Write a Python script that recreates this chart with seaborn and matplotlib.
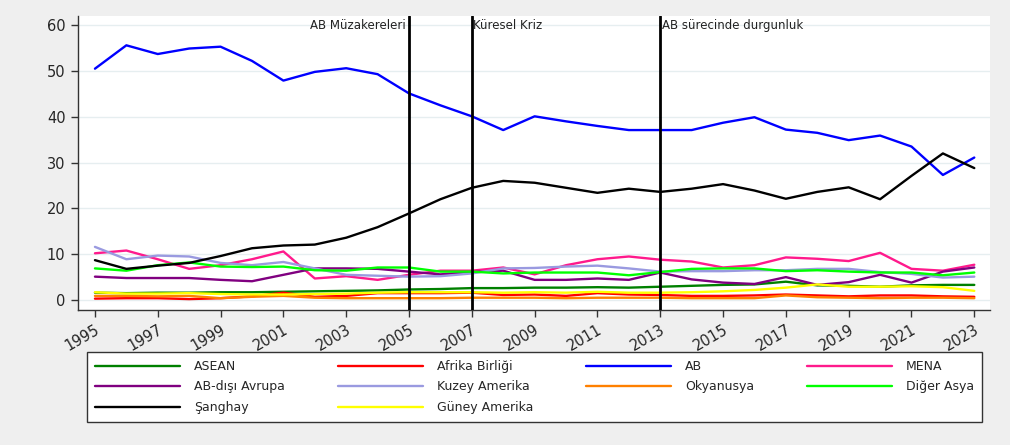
import matplotlib
matplotlib.use("Agg")
import matplotlib.pyplot as plt
import seaborn as sns
import pandas as pd

years = list(range(1995, 2024))

asean = [1.6, 1.5, 1.6, 1.6, 1.7, 1.7, 1.8, 1.9, 2.0, 2.1,
         2.3, 2.4, 2.6, 2.6, 2.7, 2.7, 2.8, 2.7, 2.9, 3.1,
         3.3, 3.4, 4.0, 3.2, 3.1, 2.9, 3.2, 3.3, 3.3]
afrika = [0.3, 0.4, 0.4, 0.2, 0.4, 0.8, 1.6, 0.7, 0.9, 1.5,
          1.5, 1.5, 1.6, 1.1, 1.2, 0.9, 1.5, 1.2, 1.1, 0.9,
          0.9, 1.0, 1.2, 1.0, 0.8, 1.0, 1.0, 0.8, 0.7]
ab = [50.5, 55.6, 53.7, 54.9, 55.3, 52.2, 47.9, 49.8, 50.6, 49.3,
      45.1, 42.5, 40.1, 37.1, 40.1, 39.0, 38.0, 37.1, 37.1, 37.1,
      38.7, 39.9, 37.2, 36.5, 34.9, 35.9, 33.5, 27.3, 31.1]
mena = [10.2, 10.8, 8.9, 6.8, 7.6, 8.9, 10.6, 4.7, 5.2, 4.4,
        5.5, 6.4, 6.4, 7.1, 5.6, 7.6, 8.9, 9.5, 8.8, 8.4,
        7.1, 7.6, 9.3, 9.0, 8.5, 10.3, 6.8, 6.4, 7.7]
ab_disi = [5.1, 4.8, 4.8, 4.8, 4.4, 4.1, 5.5, 6.9, 6.9, 6.8,
           6.2, 5.6, 6.1, 6.4, 4.4, 4.4, 4.7, 4.4, 6.0, 4.5,
           3.8, 3.5, 5.0, 3.3, 3.9, 5.5, 3.8, 6.2, 7.1]
kuzey_amerika = [11.6, 8.9, 9.7, 9.5, 8.1, 7.6, 8.3, 6.9, 5.5, 5.3,
                 5.1, 5.2, 5.8, 6.9, 7.0, 7.3, 7.5, 6.9, 6.2, 6.3,
                 6.3, 6.5, 6.5, 6.8, 6.8, 6.1, 5.7, 4.9, 5.1]
okyanusya = [0.9, 0.9, 0.8, 0.9, 0.4, 0.7, 0.9, 0.5, 0.4, 0.4,
             0.4, 0.4, 0.5, 0.5, 0.5, 0.4, 0.5, 0.5, 0.5, 0.4,
             0.4, 0.4, 1.0, 0.6, 0.5, 0.4, 0.5, 0.5, 0.4]
diger_asya = [6.9, 6.4, 7.6, 8.2, 7.3, 7.2, 7.3, 6.5, 6.4, 7.1,
              7.1, 6.2, 6.2, 5.8, 6.0, 6.0, 6.0, 5.4, 6.1, 6.8,
              6.9, 6.9, 6.3, 6.5, 6.2, 6.0, 6.0, 5.4, 6.0]
sanghay = [8.7, 6.8, 7.5, 8.1, 9.6, 11.3, 11.9, 12.1, 13.6, 15.9,
           18.9, 22.0, 24.5, 26.0, 25.6, 24.5, 23.4, 24.3, 23.6, 24.3,
           25.3, 23.9, 22.1, 23.6, 24.6, 22.0, 27.1, 32.0, 28.8]
guney_amerika = [1.7, 1.4, 1.4, 1.5, 1.3, 1.2, 1.2, 1.3, 1.4, 1.6,
                 1.7, 1.7, 1.7, 1.6, 1.7, 1.6, 1.8, 1.6, 1.6, 1.7,
                 1.9, 2.2, 2.7, 3.4, 2.9, 2.9, 3.0, 2.8, 2.0]

series_names = ["ASEAN", "Afrika Birliği", "AB", "MENA", "AB-dışı Avrupa",
                "Kuzey Amerika", "Okyanusya", "Diğer Asya", "Şanghay", "Güney Amerika"]
series_values = [asean, afrika, ab, mena, ab_disi,
                 kuzey_amerika, okyanusya, diger_asya, sanghay, guney_amerika]
colors = ["#008000", "#ff0000", "#0000ff", "#ff1a8c", "#800080",
          "#9a9ae0", "#ff8000", "#00ff00", "#000000", "#ffff00"]

events = [2005, 2007, 2013]
event_labels = ["AB Müzakereleri", "Küresel Kriz", "AB sürecinde durgunluk"]

# long format for seaborn
rows = []
for name, vals in zip(series_names, series_values):
    for y, v in zip(years, vals):
        rows.append({"yil": y, "deger": v, "seri": name})
df = pd.DataFrame(rows)

sns.set_style("white")
plt.rcParams['font.family'] = ['DejaVu Sans']

fig = plt.figure(figsize=(10.1, 4.45), dpi=100, facecolor="#efefef")
ax = fig.add_axes([78/1010, (445-310)/445, (990-78)/1010, (310-16)/445])
ax.set_facecolor("white")

sns.lineplot(data=df, x="yil", y="deger", hue="seri", hue_order=series_names,
             palette=colors, linewidth=1.7, ax=ax, legend=True)

# event lines
for yr, lab in zip(events, event_labels):
    ax.axvline(yr, color="black", lw=2.0, zorder=5)
    if yr == 2005:
        ax.text(yr - 0.1, 60, lab, ha="right", va="center", fontsize=8.5, color="#222222")
    else:
        ax.text(yr + 0.05, 60, lab, ha="left", va="center", fontsize=8.5, color="#222222")

ax.set_xlim(1994.46, 2023.5)
ax.set_ylim(-2.18, 62.0)
ax.set_yticks([0, 10, 20, 30, 40, 50, 60])
ax.set_xticks(years[::2])
ax.set_xticklabels([str(y) for y in years[::2]], rotation=30, ha="right",
                   rotation_mode="anchor")
ax.tick_params(axis="both", labelsize=10.5, length=5, width=1, color="#333333",
               direction="out", left=True, bottom=True)
ax.tick_params(axis="y", pad=4)
ax.grid(axis="y", color="#e6eef0", lw=1)
ax.set_axisbelow(True)
ax.set_xlabel("")
ax.set_ylabel("")
for s in ["top", "right"]:
    ax.spines[s].set_visible(False)
for s in ["left", "bottom"]:
    ax.spines[s].set_color("#333333")
    ax.spines[s].set_linewidth(1)

# legend, reorder so it reads row-wise like the original
handles, labels = ax.get_legend_handles_labels()
ax.get_legend().remove()
order = [0, 4, 8, 1, 5, 9, 2, 6, 3, 7]
leg = fig.legend([handles[i] for i in order], [labels[i] for i in order],
                 ncol=4, loc="lower left", mode="expand", borderaxespad=0,
                 bbox_to_anchor=(87/1010, (445-422)/445, (982-87)/1010, (422-351)/445),
                 fontsize=9, handlelength=6.8, handletextpad=1.1,
                 frameon=True, fancybox=False, edgecolor="#333333", framealpha=1,
                 facecolor="white", borderpad=0.65, labelspacing=0.6)
leg.get_frame().set_linewidth(1)
for h in leg.get_lines():
    h.set_linewidth(1.7)

fig.savefig("out.png", dpi=100, facecolor=fig.get_facecolor())
plt.close(fig)
